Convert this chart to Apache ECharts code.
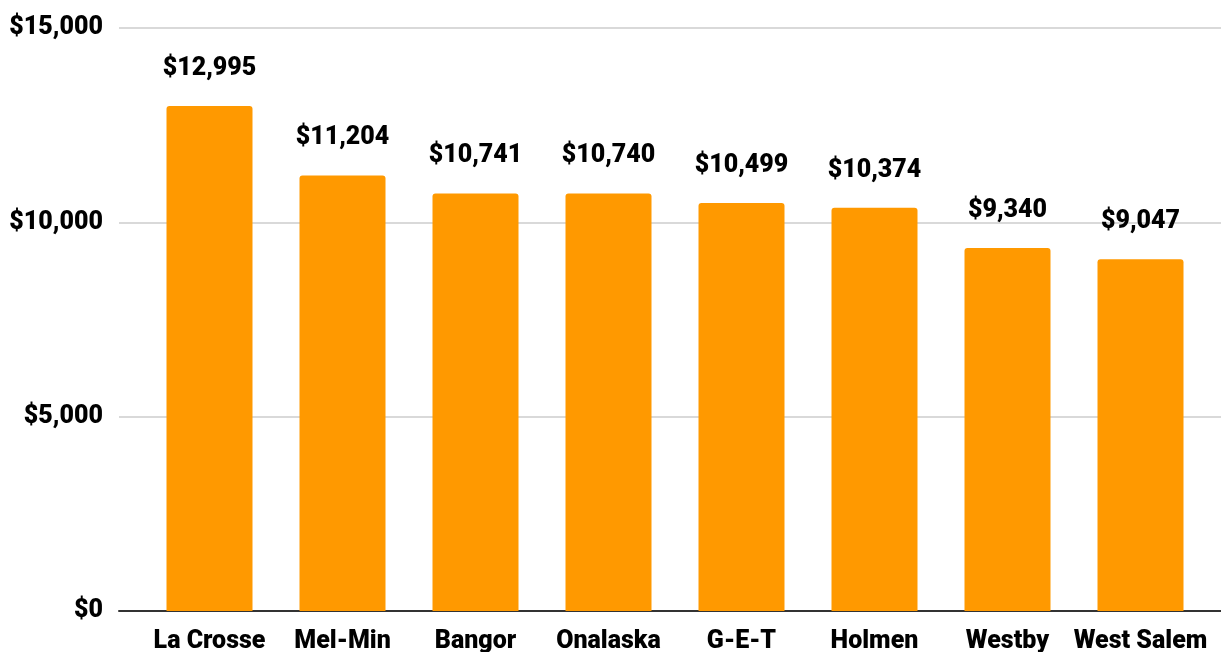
<!DOCTYPE html>
<html>
<head>
<meta charset="utf-8">
<script src="https://cdn.jsdelivr.net/npm/echarts@6/dist/echarts.min.js"></script>
<style>
html, body { margin: 0; padding: 0; background: #fff; }
#main { width: 1221px; height: 652px; }
</style>
</head>
<body>
<div id="main"></div>
<script>
// 数据
var districts = ['La Crosse', 'Mel-Min', 'Bangor', 'Onalaska', 'G-E-T', 'Holmen', 'Westby', 'West Salem'];
var spending = [12995, 11204, 10741, 10740, 10499, 10374, 9340, 9047];
var yMin = 0, yMax = 15000, yStep = 5000;

var chart = echarts.init(document.getElementById('main'));
var font = 'Roboto';

function money(v) {
    return '$' + Number(v).toLocaleString('en-US');
}

chart.setOption({
    animation: false,
    grid: [
        // 网格线用
        { left: 119, right: 0, top: 28, height: 583, outerBoundsMode: 'none', containLabel: false },
        // 柱子用
        { left: 143, width: 1064, top: 28, height: 583, outerBoundsMode: 'none', containLabel: false }
    ],
    xAxis: [{
        gridIndex: 0,
        type: 'category',
        data: [''],
        axisLine: { show: true, lineStyle: { color: '#333', width: 2 } },
        axisTick: { show: false },
        axisLabel: { show: false }
    }, {
        gridIndex: 1,
        type: 'category',
        data: districts,
        axisLine: { show: false },
        axisTick: { show: false },
        axisLabel: {
            color: '#000', fontFamily: font, fontWeight: 900, fontSize: 25,
            margin: 18, interval: 0
        }
    }],
    yAxis: [{
        gridIndex: 0,
        type: 'value',
        min: yMin, max: yMax, interval: yStep,
        axisLine: { show: false },
        axisTick: { show: false },
        splitLine: { lineStyle: { color: '#ccc', width: 1.5 } },
        axisLabel: {
            color: '#000', fontFamily: font, fontWeight: 900, fontSize: 25,
            margin: 16, formatter: money
        }
    }, {
        gridIndex: 1,
        type: 'value',
        min: yMin, max: yMax, interval: yStep,
        show: false
    }],
    series: [{
        type: 'bar',
        xAxisIndex: 1,
        yAxisIndex: 1,
        data: spending,
        barWidth: 86,
        itemStyle: { color: '#ff9900', borderRadius: [3, 3, 0, 0] },
        label: {
            show: true,
            position: 'top',
            distance: 25,
            color: '#000',
            fontFamily: font,
            fontWeight: 900,
            fontSize: 25,
            formatter: function (p) { return money(p.value); }
        }
    }]
});
</script>
</body>
</html>
